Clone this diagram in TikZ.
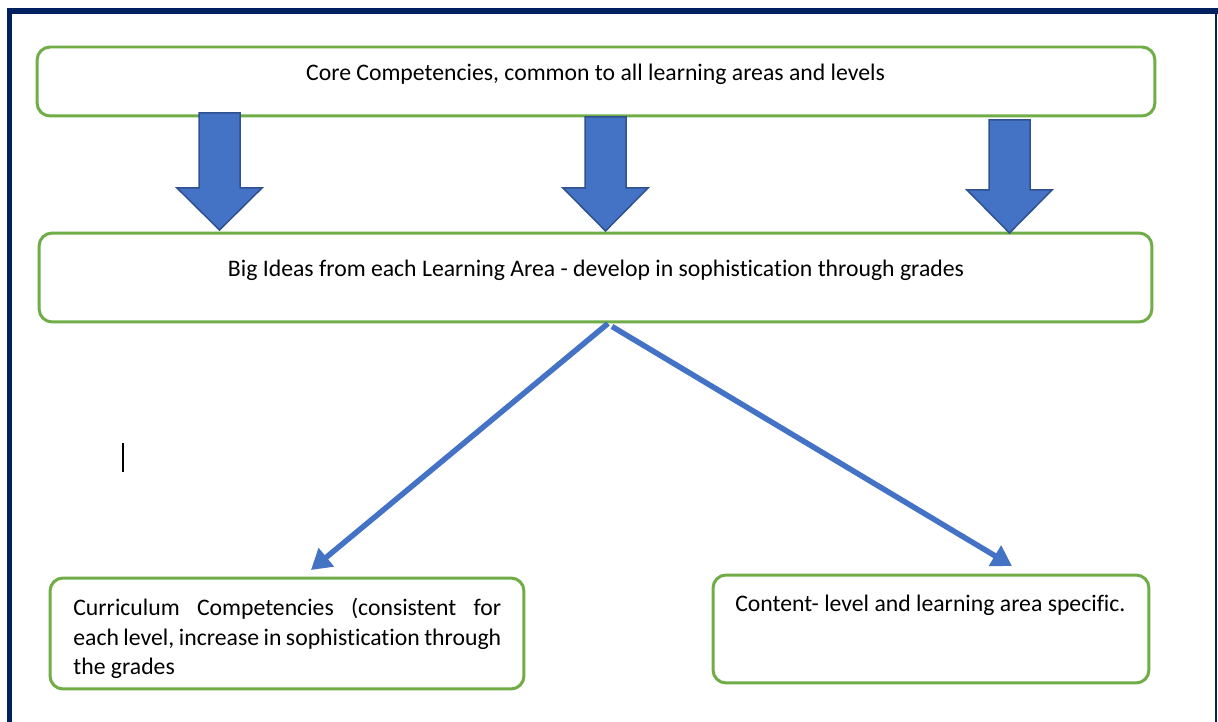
\documentclass[tikz,border=0pt]{standalone}
\usepackage{fontspec}
\setmainfont{Carlito}[Ligatures=NoCommon]
\usetikzlibrary{arrows.meta}
\definecolor{frameblue}{HTML}{002060}
\definecolor{boxgreen}{HTML}{70AD47}
\definecolor{arrowblue}{HTML}{4472C4}
\definecolor{arrowedge}{HTML}{2F528F}

\tikzset{
  box/.style={draw=boxgreen, line width=0.06cm, rounded corners=0.26cm, inner sep=0pt},
  txt/.style={inner sep=0pt, font=\fontsize{13.5}{16.7}\selectfont},
  bigarrow/.style={fill=arrowblue, draw=arrowedge, line width=0.03cm},
  link/.style={draw=arrowblue, line width=0.11cm, -{Triangle[length=0.4cm,width=0.46cm]}}
}
% centre x, top, head base, tip
\newcommand{\blockarrow}[4]{%
  \draw[bigarrow] (#1-20.5,#2) -- (#1+20.5,#2) -- (#1+20.5,#3) -- (#1+42.5,#3)
    -- (#1,#4) -- (#1-42.5,#3) -- (#1-20.5,#3) -- cycle;}

\begin{document}
\begin{tikzpicture}[x=0.02cm, y=-0.02cm]
\useasboundingbox[fill=white] (0,0) rectangle (1218,722);

% frame
\draw[frameblue, line width=0.11cm] (9.5,722) -- (9.5,11) -- (1218,11);
\draw[frameblue, line width=0.03cm] (1216,11) -- (1216,722);

% boxes
\node[box, minimum width=22.36cm, minimum height=1.38cm] (core) at (596,81.5) {};
\node[box, minimum width=22.26cm, minimum height=1.78cm] (big) at (595.5,277.5) {};
\node[box, minimum width=9.48cm, minimum height=2.22cm] (curr) at (287,633.5) {};
\node[box, minimum width=8.72cm, minimum height=2.16cm] (cont) at (931,629) {};

\node[txt, anchor=base] (coretxt) at (595.5,81) {Core Competencies, common to all learning areas and levels};
\node[txt, anchor=base] (bigtxt) at (596,277) {Big Ideas from each Learning Area - develop in sophistication through grades};
\node[txt, anchor=north west, align=left] (currtxt) at (73,598) {%
  \makebox[8.56cm][s]{Curriculum Competencies (consistent for}\\
  \makebox[8.56cm][s]{each level, increase in sophistication through}\\
  the grades};
\node[txt, anchor=base west] (conttxt) at (735,612) {Content- level and learning area specific.};

% block arrows
\blockarrow{219.5}{113}{188}{230}
\blockarrow{605.5}{117}{188}{231}
\blockarrow{1009.5}{120}{190}{233}

% links
\coordinate (currtip) at (311,570);
\coordinate (conttip) at (1012,566);
\draw[link] ([xshift=0.25cm]big.south) -- (currtip);
\draw[link] ([xshift=0.33cm,yshift=-0.06cm]big.south) -- (conttip);

% cursor
\draw[line width=0.04cm] (122.5,443) -- (122.5,472);
\end{tikzpicture}
\end{document}
